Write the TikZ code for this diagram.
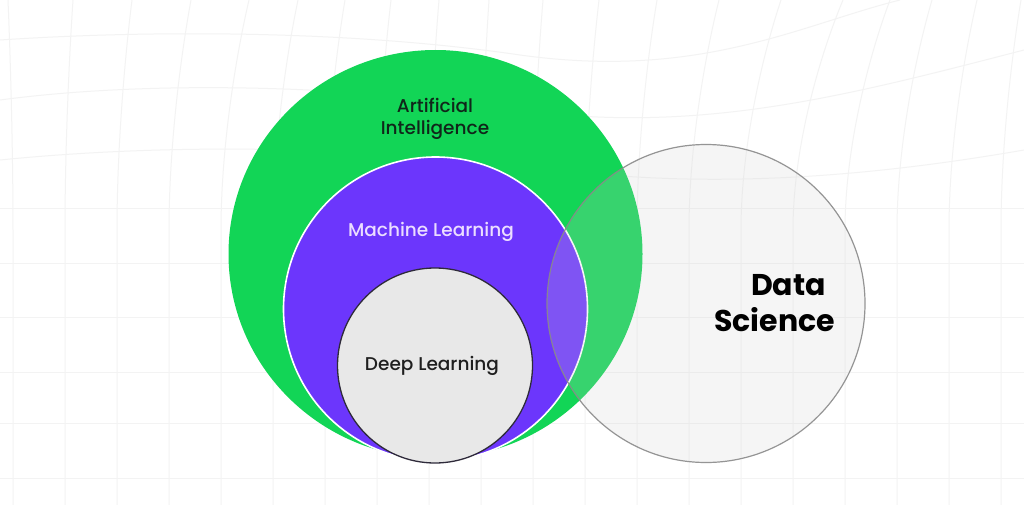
\documentclass[tikz,border=0pt]{standalone}
\usepackage{fontspec}
\setmainfont{Poppins}[UprightFont={* Medium},BoldFont={* Bold}]
\usetikzlibrary{shapes.geometric}
\definecolor{aigreen}{HTML}{12D556}
\definecolor{mlpurple}{HTML}{6C36FC}
\definecolor{dlfill}{HTML}{E8E8E8}
\definecolor{dlborder}{HTML}{2E2A3A}
\definecolor{dsfill}{HTML}{CFCFCF}
\definecolor{dsborder}{HTML}{8A8A8A}
\definecolor{aitext}{HTML}{10261A}
\definecolor{mltext}{HTML}{EBDDFF}
\definecolor{gridcol}{HTML}{F3F3F3}
\begin{document}
\begin{tikzpicture}[x=1pt,y=-1pt,
  gridline/.style={draw=gridcol, line width=1pt},
  setbox/.style={inner sep=0pt, outer sep=0pt},
  lab/.style={anchor=base, inner sep=0pt, font=\fontsize{18.5}{22}\selectfont},
  biglab/.style={anchor=base, inner sep=0pt, font=\fontsize{30}{36}\selectfont\bfseries}]
\useasboundingbox (0,0) rectangle (1024,505);
\fill[white] (0,0) rectangle (1024,505);
% faint warped background grid
\foreach \yy in {478,423,372,317,263,208}
  \draw[gridline] (0,\yy) -- (1024,\yy);
\draw[gridline] (0,160) .. controls (200,140) and (400,150) .. (560,170) .. controls (720,190) and (880,175) .. (1024,150);
\draw[gridline] (0,100) .. controls (150,80) and (350,85) .. (520,110) .. controls (700,135) and (850,95) .. (1024,50);
\draw[gridline] (0,40) .. controls (150,30) and (350,30) .. (520,55) .. controls (700,80) and (800,25) .. (900,0);
\foreach \xx/\dd in {13/-5,65/8,117/15,169/22,221/28,273/25,325/20,377/14,429/10,481/8,533/10,585/14,637/20,689/30,741/40,793/50,845/45,897/35,949/28,1001/20}
  \draw[gridline] (\xx,505) -- (\xx,230) .. controls (\xx,150) and ({\xx+0.5*\dd},60) .. ({\xx+\dd},0);
% sets
\node[setbox, ellipse, minimum width=414pt, minimum height=408pt, fill=aigreen] (ai) at (435.5,254) {};
\node[setbox, circle, minimum size=304pt, fill=mlpurple, draw=white, line width=1.6pt] (ml) at (435.5,309) {};
\node[setbox, circle, minimum size=195pt, fill=dlfill, draw=dlborder, line width=1.3pt] (dl) at (435,365.5) {};
\node[setbox, circle, minimum size=318pt, fill=dsfill, fill opacity=0.2, draw=dsborder, draw opacity=0.9, line width=1.2pt] (ds) at (706,303.5) {};
% labels
\node[lab, text=aitext] (ai1) at (435,113) {Artificial};
\node[lab, text=aitext] (ai2) at (435,135) {Intelligence};
\node[lab, text=mltext] (mll) at (431,236) {Machine Learning};
\node[lab, text=black!88] (dll) at (432,370) {Deep Learning};
\node[biglab, text=black] (ds1) at (788.5,295) {Data};
\node[biglab, text=black] (ds2) at (774.5,331) {Science};
\end{tikzpicture}
\end{document}
